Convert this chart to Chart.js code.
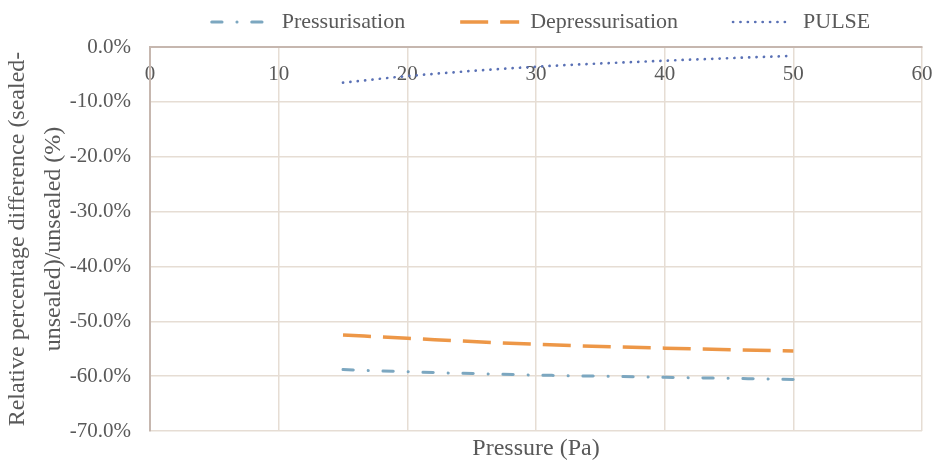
<!DOCTYPE html>
<html><head><meta charset="utf-8">
<script src="https://cdn.jsdelivr.net/npm/chart.js@4"></script>
<style>html,body{margin:0;padding:0;background:#fff}canvas{display:block}</style>
</head><body>
<canvas id="c" width="936" height="464"></canvas>
<script>
// ---- data ----
const seriesNames = ['Pressurisation', 'Depressurisation', 'PULSE'];
const pressures = [15, 20, 30, 40, 50];
const pressurisation = [-58.8, -59.2, -59.8, -60.2, -60.6];
const depressurisation = [-52.5, -53.1, -54.2, -54.9, -55.4];
const pulse = [-6.5, -5.3, -3.6, -2.5, -1.6];
const xTicks = [0, 10, 20, 30, 40, 50, 60];
const yTicks = [0, -10, -20, -30, -40, -50, -60, -70];
const xTitle = 'Pressure (Pa)';
const yTitle = ['Relative percentage difference (sealed-', 'unsealed)/unsealed (%)'];

const TEXT = '#595959';
const SERIF = "'Liberation Serif', 'Times New Roman', serif";
const GRID = '#e6ddd4';
const AXIS = '#c6b7af';

const pts = vals => pressures.map((p, i) => ({x: p, y: vals[i]}));

// move the legend row up/right (its clip box is enlarged upward, bottom unchanged)
const legendShift = {
  id: 'legendShift',
  afterLayout(chart) {
    const l = chart.legend;
    if (l) { l.top -= 44; l.left += 5; l.right += 5; }
  }
};

new Chart(document.getElementById('c'), {
  type: 'line',
  data: {
    datasets: [
      {label: seriesNames[0], data: pts(pressurisation), borderColor: '#7ca7c0', backgroundColor: '#7ca7c0',
       borderWidth: 3, borderDash: [10.3, 14.9, 0.1, 14.7], borderCapStyle: 'round',
       pointRadius: 0, fill: false, cubicInterpolationMode: 'monotone'},
      {label: seriesNames[1], data: pts(depressurisation), borderColor: '#ed9747', backgroundColor: '#ed9747',
       borderWidth: 3.5, borderDash: [28, 12], borderCapStyle: 'butt',
       pointRadius: 0, fill: false, cubicInterpolationMode: 'monotone'},
      {label: seriesNames[2], data: pts(pulse), borderColor: '#5a71b5', backgroundColor: '#5a71b5',
       borderWidth: 2.7, borderDash: [0.1, 7.3], borderCapStyle: 'round',
       pointRadius: 0, fill: false, cubicInterpolationMode: 'monotone'}
    ]
  },
  options: {
    responsive: false,
    animation: false,
    layout: {padding: {left: 0, right: 14, top: 0, bottom: 0}},
    plugins: {
      tooltip: {enabled: false},
      legend: {
        position: 'top', fullSize: false, maxHeight: 47,
        labels: {
          usePointStyle: true, pointStyle: 'line', pointStyleWidth: 59, padding: 55,
          color: TEXT, font: {family: SERIF, size: 22},
          generateLabels(chart) {
            const items = Chart.defaults.plugins.legend.labels.generateLabels(chart);
            items.forEach(it => {
              const ds = chart.data.datasets[it.datasetIndex];
              it.lineDash = ds.borderDash;
              it.lineWidth = ds.borderWidth;
              it.lineCap = ds.borderCapStyle;
              it.strokeStyle = ds.borderColor;
              it.pointStyle = 'line';
            });
            return items;
          }
        }
      }
    },
    scales: {
      x: {
        type: 'linear', position: {y: 0},
        min: xTicks[0], max: xTicks[xTicks.length - 1],
        afterBuildTicks: s => { s.ticks = xTicks.map(v => ({value: v})); },
        afterFit: s => { s.paddingLeft = 0; s.paddingRight = 0; },
        ticks: {color: TEXT, font: {family: SERIF, size: 21}, padding: 15, maxRotation: 0, autoSkip: false},
        grid: {color: GRID, lineWidth: 1.5, drawTicks: false},
        border: {color: AXIS, width: 2}
      },
      xt: {
        type: 'linear', position: 'bottom',
        ticks: {display: false}, grid: {display: false, drawTicks: false}, border: {display: false},
        title: {display: true, text: xTitle, color: TEXT, font: {family: SERIF, size: 24}, padding: {top: 0, bottom: 1}},
        afterFit: s => { s.height = 33; s.paddingLeft = 0; s.paddingRight = 0; }
      },
      y: {
        min: yTicks[yTicks.length - 1], max: yTicks[0],
        afterBuildTicks: s => { s.ticks = yTicks.map(v => ({value: v})); },
        ticks: {color: TEXT, font: {family: SERIF, size: 21}, padding: 19, autoSkip: false,
                callback: v => v.toFixed(1) + '%'},
        grid: {color: GRID, lineWidth: 1.5, drawTicks: false},
        border: {color: AXIS, width: 2},
        title: {display: true, text: yTitle, color: TEXT, font: {family: SERIF, size: 24, lineHeight: 1.5}, padding: {top: 0, bottom: 0}},
        afterFit: s => { s.width = 150; s.paddingTop = 0; s.paddingBottom = 0; }
      }
    }
  },
  plugins: [legendShift]
});
</script>
</body></html>
